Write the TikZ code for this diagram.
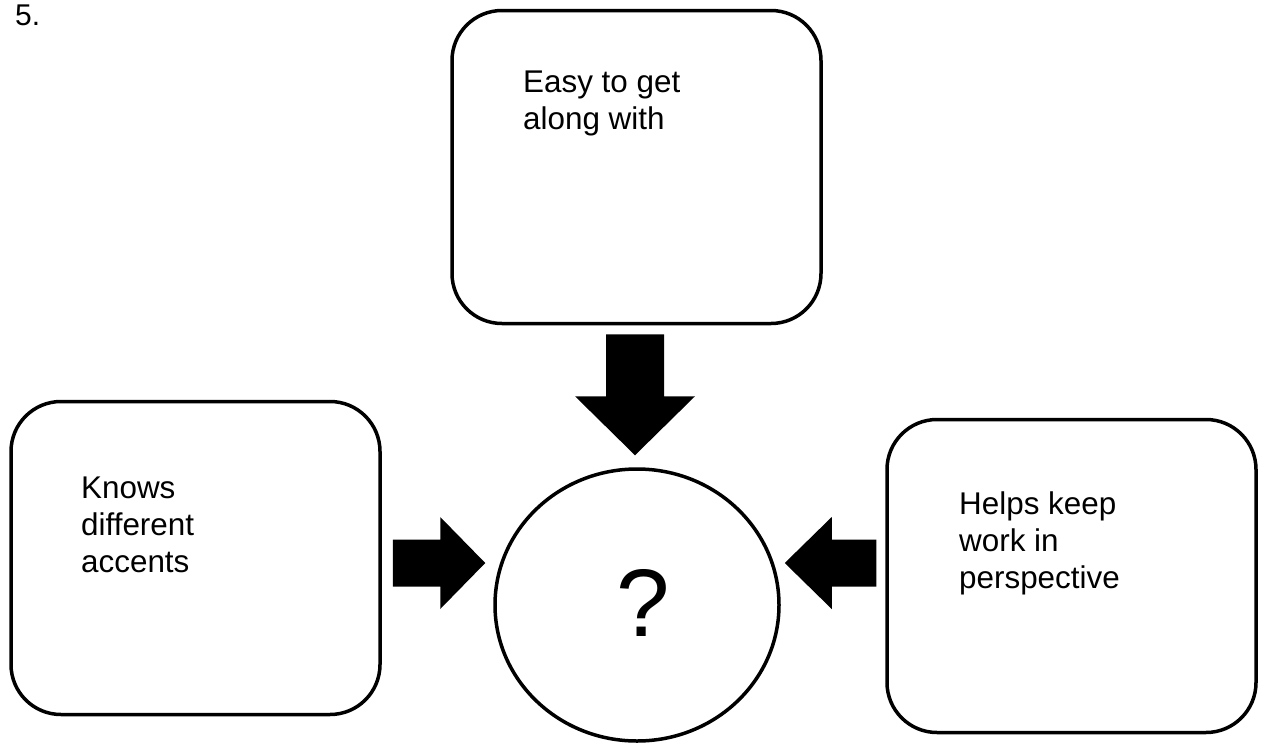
\documentclass[tikz,border=0pt]{standalone}
\usepackage{fontspec}
\setmainfont{Liberation Sans}
\usetikzlibrary{calc,shapes.geometric}
\tikzset{
  box/.style={draw, line width=3.5pt, rounded corners=50pt, minimum width=369pt, minimum height=313pt, inner sep=0pt},
  lbl/.style={anchor=base west, inner sep=0pt, align=left, font=\fontsize{31.4}{37.4}\selectfont},
  hub/.style={draw, ellipse, line width=3.5pt, minimum width=284pt, minimum height=272pt, inner sep=0pt},
}
% #1 start, #2 end, #3 half shaft, #4 half head, #5 head length
\newcommand\blockarr[5]{%
  \path (#1) coordinate (ba-s) (#2) coordinate (ba-e);
  \coordinate (ba-h) at ($(ba-e)!#5!(ba-s)$);
  \fill ($(ba-s)!#3!90:(ba-e)$) -- ($(ba-h)!#3!-90:(ba-s)$) -- ($(ba-h)!#4!-90:(ba-s)$)
    -- (ba-e) -- ($(ba-h)!#4!90:(ba-s)$) -- ($(ba-h)!#3!90:(ba-s)$) -- ($(ba-s)!#3!-90:(ba-e)$) -- cycle;
}
\begin{document}
\begin{tikzpicture}[x=1pt,y=-1pt]
\useasboundingbox (0,0) rectangle (1262,745);
\node[anchor=base west, inner sep=0pt, font=\fontsize{30}{34}\selectfont] (num) at (15,25) {5.};
\node[box] (top) at (636.5,167) {};
\node[box] (lbox) at (195.5,558) {};
\node[box] (rbox) at (1071.5,576) {};
\node[hub] (circ) at (637,605) {};
\node[inner sep=0pt, font=\fontsize{96}{100}\selectfont] (q) at (643.5,603) {?};
% base anchor = baseline of the last line
\node[lbl] (ttext) at (523,129.4) {Easy to get\\along with};
\node[lbl] (ltext) at (81,572.8) {Knows\\different\\accents};
\node[lbl] (rtext) at (959,588.8) {Helps keep\\work in\\perspective};
\coordinate (d-s) at ($(top.south)+(-1.5,9)$);
\coordinate (d-e) at ($(circ.north)+(-2,-12)$);
\blockarr{d-s}{d-e}{29pt}{60pt}{59pt}
\coordinate (l-s) at ($(lbox.east)+(11,5)$);
\coordinate (l-e) at ($(circ.west)+(-8,-42)$);
\blockarr{l-s}{l-e}{23.5pt}{46pt}{45pt}
\coordinate (r-s) at ($(rbox.west)+(-9,-13)$);
\coordinate (r-e) at ($(circ.east)+(4,-42)$);
\blockarr{r-s}{r-e}{23.5pt}{46pt}{47pt}
\end{tikzpicture}
\end{document}
